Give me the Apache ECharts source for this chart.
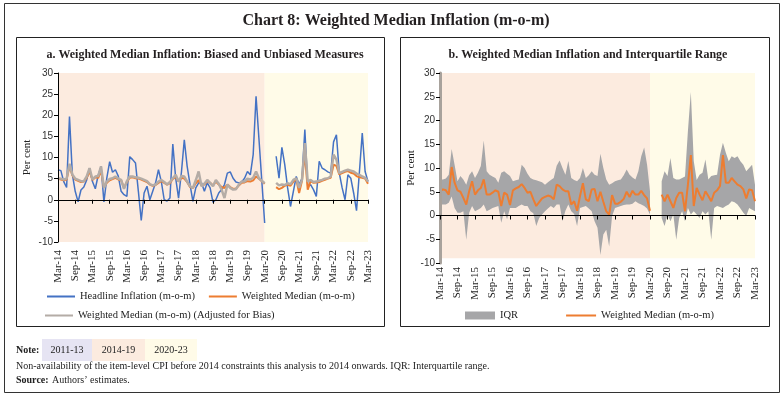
<!DOCTYPE html>
<html>
<head>
<meta charset="utf-8">
<script src="https://cdn.jsdelivr.net/npm/echarts@6.0.0/dist/echarts.min.js"></script>
<style>html,body{margin:0;padding:0;background:#fff}#chart{width:783px;height:396px}</style>
</head>
<body>
<div id="chart"></div>
<script>
// monthly categories Mar-14 .. Mar-23
var monthNames = ['Jan','Feb','Mar','Apr','May','Jun','Jul','Aug','Sep','Oct','Nov','Dec'];
var months = [];
for (var k = 0; k < 109; k++) {
  var m = 2 + k;
  months.push(monthNames[m % 12] + '-' + (14 + Math.floor(m / 12)));
}

// panel a
var headline = [7.1,6.9,4.3,2.9,19.7,6.0,2.0,-0.5,2.3,3.0,
  4.7,7.5,4.3,2.6,5.8,7.9,-0.5,5.1,9.0,6.5,
  7.1,5.6,2.0,1.2,0.8,10.2,9.5,8.7,2.0,-4.9,
  1.6,3.2,0.0,2.0,4.0,7.1,4.3,0.0,-0.3,0.4,
  13.2,5.1,0.4,6.5,14.2,7.9,3.6,-0.4,2.8,4.0,
  4.0,2.0,4.0,2.8,-0.6,0.0,1.6,2.4,3.6,6.3,
  6.6,5.1,4.2,4.0,4.2,5.1,6.7,5.9,10.7,24.5,
  14.5,4.5,-5.5,null,null,null,10.3,5.1,12.4,8.3,
  2.8,-1.6,2.0,5.5,3.6,5.1,16.6,3.2,3.6,2.4,
  0.8,9.1,7.5,7.1,6.6,6.3,13.7,15.4,6.3,2.8,
  0.0,5.9,5.1,1.6,-2.6,6.5,15.8,6.7,4.3];
var wmA = [5.0,4.8,4.6,4.8,7.9,5.8,4.8,4.5,4.2,4.3,
  5.2,6.7,4.7,5.3,5.2,6.8,3.0,4.0,4.6,4.9,
  5.2,4.8,4.6,2.8,4.2,5.2,5.3,5.1,5.0,4.8,
  4.5,4.2,3.6,3.3,3.5,4.0,4.4,4.0,3.6,3.9,
  4.9,5.4,4.3,5.2,5.0,4.2,3.0,2.8,3.9,4.6,
  3.4,3.6,4.4,4.0,3.4,4.3,3.6,3.0,2.8,3.6,
  3.0,2.6,2.6,3.4,4.0,4.1,4.4,4.3,4.6,5.5,
  5.0,4.4,3.8,null,null,null,3.0,2.5,2.8,3.3,
  3.6,3.3,4.3,4.9,1.6,4.5,11.0,2.4,4.4,4.0,
  4.1,4.2,4.5,4.7,5.0,5.2,8.3,8.0,6.0,6.3,
  6.6,6.8,6.4,6.2,5.6,5.3,5.2,5.0,3.8];
var adjA = [5.1,5.0,4.8,5.0,8.5,6.0,5.0,4.7,4.4,4.4,
  5.5,7.5,4.8,5.5,5.6,7.9,2.8,4.3,4.9,5.1,
  5.5,5.0,4.7,2.6,4.4,5.5,5.5,5.3,5.2,5.0,
  4.7,4.4,3.7,3.4,3.6,4.3,4.7,4.2,3.6,4.2,
  5.1,5.9,4.3,5.6,5.5,4.3,3.2,2.8,4.6,6.7,
  3.2,3.8,4.7,4.0,3.2,4.7,3.8,2.4,0.4,3.6,
  2.8,2.4,2.5,3.6,4.3,4.3,5.0,4.8,5.2,6.7,
  5.1,4.5,3.9,null,null,null,4.0,3.4,3.6,3.5,
  3.9,3.7,4.7,5.1,2.8,4.7,13.4,4.3,4.7,4.2,
  4.3,4.5,4.7,5.0,5.1,5.5,10.7,9.5,6.3,6.6,
  6.9,7.1,6.9,6.7,6.2,5.9,5.5,5.2,4.3];

// panel b
var wmB = [5.1,5.5,5.3,4.4,10.2,6.9,5.3,5.0,3.7,2.3,
  5.1,7.2,4.4,5.3,5.8,7.6,4.4,4.4,4.8,5.3,
  5.0,2.0,4.8,4.4,2.2,5.3,5.7,6.0,6.6,5.8,
  4.8,5.0,3.4,2.0,2.8,3.6,3.9,4.2,4.0,3.4,
  6.5,6.2,5.5,5.1,5.1,2.3,3.0,1.0,4.1,6.8,
  3.4,3.0,5.5,5.6,3.0,5.0,2.9,0.9,0.2,4.3,
  2.5,2.5,2.9,3.5,5.0,3.9,5.2,4.4,4.4,5.2,
  4.3,3.6,1.0,null,null,null,4.4,3.0,4.4,3.0,
  1.6,3.7,4.8,4.8,0.9,6.5,12.7,2.0,5.8,4.4,
  3.2,5.1,4.1,3.0,4.8,5.3,6.2,12.7,6.9,6.9,
  7.9,7.2,6.5,6.2,5.5,3.6,5.5,5.3,3.0];
var upB = [7.6,7.6,7.8,8.6,14.0,10.7,7.2,8.3,7.6,6.5,
  8.5,9.3,7.9,9.0,10.4,15.8,9.3,8.6,8.2,7.9,
  6.9,9.0,9.3,8.8,8.3,7.2,7.4,7.6,10.7,10.0,
  8.8,7.9,7.6,7.4,7.2,7.0,6.5,7.0,7.5,7.9,
  10.5,11.6,10.0,8.6,11.5,7.9,7.5,7.2,7.9,10.0,
  7.9,8.5,9.3,8.6,8.3,13.0,10.0,7.6,6.5,6.8,
  7.2,7.4,7.6,8.5,9.7,8.6,8.0,7.6,9.3,12.5,
  14.3,10.7,5.1,null,null,null,7.2,9.3,8.3,12.1,
  7.9,7.6,7.6,7.9,8.2,17.8,26.0,11.5,7.5,8.6,
  9.0,11.8,7.6,8.3,8.5,8.6,12.8,15.3,13.2,11.4,
  12.5,12.1,12.5,11.4,10.7,9.3,10.0,10.7,6.5];
var lowB = [2.3,2.3,2.3,2.7,4.0,1.6,0.6,0.6,0.9,-5.1,
  0.6,2.0,0.9,1.2,1.6,2.3,0.9,1.2,1.6,1.8,
  2.0,-1.5,0.9,-0.8,1.6,1.6,1.6,2.0,2.3,2.0,
  2.0,0.9,0.5,-2.2,-0.5,0.2,0.9,1.5,2.0,1.6,
  2.3,2.3,-1.2,1.0,2.3,0.9,0.3,-2.2,1.6,1.8,
  2.0,1.5,0.9,-1.2,-2.6,-8.3,-4.0,-3.0,-6.5,-0.1,
  1.6,1.8,2.0,2.2,2.3,2.3,2.5,3.0,2.6,2.3,
  2.0,1.5,0.2,null,null,null,-0.5,-2.2,0.2,-1.2,
  0.2,-5.1,-0.5,0.9,-1.2,1.6,0.2,0.9,0.2,-0.5,
  0.9,0.2,0.9,-5.1,1.6,2.0,1.8,1.6,2.0,2.3,
  3.0,2.8,2.3,1.5,0.6,-0.1,1.6,1.2,0.9];

var iqrWidth = upB.map(function (v, i) {
  return (v == null || lowB[i] == null) ? null : +(v - lowB[i]).toFixed(2);
});

var serif = 'Liberation Serif';
var sans = 'Liberation Sans';
var pink = '#fcebdf';
var yellow = '#fffbe8';
// legend icons: full box, and a thin line across the middle of the box
var boxIcon = 'path://M0,0H30V8H0Z';
var lineIcon = 'path://M0,0H30V0.01H0Z M0,3H30V5H0Z M0,7.99H30V8H0Z';

function labelAxis(gridIndex, margin) {
  return {
    type: 'category', gridIndex: gridIndex, data: months, boundaryGap: false, position: 'bottom',
    axisLine: { show: false, onZero: false }, axisTick: { show: false },
    axisLabel: { interval: 5, rotate: 90, margin: margin, fontFamily: serif, fontSize: 11, color: '#222' }
  };
}
function zeroAxis(gridIndex) {
  return {
    type: 'category', gridIndex: gridIndex, data: months, boundaryGap: false, position: 'bottom', z: 5,
    axisLine: { onZero: true, lineStyle: { color: '#000', width: 1 } },
    axisTick: { interval: 5, length: 4, lineStyle: { color: '#000' } },
    axisLabel: { show: false }
  };
}
function valueAxis(gridIndex, lineColor, lineWidth, gap) {
  return {
    type: 'value', gridIndex: gridIndex, min: -10, max: 30, interval: 5, z: 5,
    name: 'Per cent', nameLocation: 'middle', nameGap: gap, nameRotate: 90,
    nameTextStyle: { fontFamily: serif, fontSize: 11, color: '#222' },
    axisLine: { show: true, lineStyle: { color: lineColor, width: lineWidth } },
    axisTick: { show: true, length: 4, lineStyle: { color: '#000' } },
    axisLabel: { fontFamily: sans, fontSize: 10, color: '#333', margin: 5 },
    splitLine: { show: false }
  };
}

var chart = echarts.init(document.getElementById('chart'));
var option = {
  animation: false,
  backgroundColor: '#fff',
  title: [
    { text: 'Chart 8: Weighted Median Inflation (m-o-m)', left: 391, top: 8, textAlign: 'center',
      textStyle: { fontFamily: serif, fontSize: 16, fontWeight: 'bold', color: '#231f20' } },
    { text: 'a. Weighted Median Inflation: Biased and Unbiased Measures', left: 200, top: 44, textAlign: 'center',
      textStyle: { fontFamily: serif, fontSize: 12, fontWeight: 'bold', color: '#231f20' } },
    { text: 'b. Weighted Median Inflation and Interquartile Range', left: 583, top: 44, textAlign: 'center',
      textStyle: { fontFamily: serif, fontSize: 12, fontWeight: 'bold', color: '#231f20' } }
  ],
  grid: [
    { left: 58, top: 73, width: 310, height: 169 },
    { left: 440, top: 73, width: 315, height: 190 }
  ],
  xAxis: [labelAxis(0, 8), zeroAxis(0), labelAxis(1, 4), zeroAxis(1)],
  yAxis: [valueAxis(0, '#000', 1, 25), valueAxis(1, '#a8a29c', 3, 23)],
  legend: [
    { left: 42, top: 286, itemWidth: 28, itemHeight: 8, itemGap: 14,
      textStyle: { fontFamily: serif, fontSize: 10.5, color: '#222' },
      data: [{ name: 'Headline Inflation (m-o-m)', icon: lineIcon },
             { name: 'Weighted Median (m-o-m)', icon: lineIcon }] },
    { left: 40, top: 305, itemWidth: 28, itemHeight: 8,
      textStyle: { fontFamily: serif, fontSize: 10.5, color: '#222' },
      data: [{ name: 'Weighted Median (m-o-m) (Adjusted for Bias)', icon: lineIcon }] },
    { left: 460, top: 305, itemWidth: 30, itemHeight: 8, itemGap: 48,
      textStyle: { fontFamily: serif, fontSize: 10.5, color: '#222' },
      data: [{ name: 'IQR', icon: boxIcon, itemStyle: { color: '#a6a6a8' } },
             { name: 'Weighted Median (m-o-m)', icon: lineIcon }] }
  ],
  graphic: [
    { type: 'rect', shape: { x: 4.5, y: 3.5, width: 775, height: 389 }, style: { fill: 'none', stroke: '#333', lineWidth: 1 }, z: -1 },
    { type: 'rect', shape: { x: 16.5, y: 37.5, width: 368, height: 289 }, style: { fill: 'none', stroke: '#222', lineWidth: 1 } },
    { type: 'rect', shape: { x: 400.5, y: 37.5, width: 369, height: 289 }, style: { fill: 'none', stroke: '#222', lineWidth: 1 } },
    { type: 'rect', shape: { x: 42, y: 339, width: 50, height: 22 }, style: { fill: '#e6e4f3' } },
    { type: 'rect', shape: { x: 92, y: 339, width: 53, height: 22 }, style: { fill: pink } },
    { type: 'rect', shape: { x: 145, y: 339, width: 52, height: 22 }, style: { fill: yellow } },
    { type: 'text', style: { text: 'Note:', x: 16, y: 350, fontFamily: serif, fontSize: 10, fontWeight: 'bold', fill: '#222', verticalAlign: 'middle' } },
    { type: 'text', style: { text: '2011-13', x: 67, y: 350, fontFamily: serif, fontSize: 10, fill: '#222', align: 'center', verticalAlign: 'middle' } },
    { type: 'text', style: { text: '2014-19', x: 118.5, y: 350, fontFamily: serif, fontSize: 10, fill: '#222', align: 'center', verticalAlign: 'middle' } },
    { type: 'text', style: { text: '2020-23', x: 171, y: 350, fontFamily: serif, fontSize: 10, fill: '#222', align: 'center', verticalAlign: 'middle' } },
    { type: 'text', style: { text: 'Non-availability of the item-level CPI before 2014 constraints this analysis to 2014 onwards. IQR: Interquartile range.', x: 16, y: 366, fontFamily: serif, fontSize: 10, fill: '#222', verticalAlign: 'middle' } },
    { type: 'text', style: { text: 'Source:', x: 16, y: 380, fontFamily: serif, fontSize: 10, fontWeight: 'bold', fill: '#222', verticalAlign: 'middle' } },
    { type: 'text', style: { text: 'Authors\u2019 estimates.', x: 52, y: 380, fontFamily: serif, fontSize: 10, fill: '#222', verticalAlign: 'middle' } }
  ],
  series: [
    {
      name: 'Headline Inflation (m-o-m)', type: 'line', xAxisIndex: 0, yAxisIndex: 0, data: headline,
      symbol: 'none', lineStyle: { color: '#4472c4', width: 1.5 }, itemStyle: { color: '#4472c4' },
      markArea: {
        silent: true,
        data: [
          [{ xAxis: months[0], yAxis: -10, itemStyle: { color: pink } }, { xAxis: months[72], yAxis: 30 }],
          [{ xAxis: months[72], yAxis: -10, itemStyle: { color: yellow } }, { xAxis: months[108], yAxis: 30 }]
        ]
      }
    },
    {
      name: 'Weighted Median (m-o-m)', type: 'line', xAxisIndex: 0, yAxisIndex: 0, data: wmA,
      symbol: 'none', lineStyle: { color: '#ed7d31', width: 2 }, itemStyle: { color: '#ed7d31' }
    },
    {
      name: 'Weighted Median (m-o-m) (Adjusted for Bias)', type: 'line', xAxisIndex: 0, yAxisIndex: 0, data: adjA,
      symbol: 'none', lineStyle: { color: '#b4aca6', width: 2.5 }, itemStyle: { color: '#b4aca6' }
    },
    {
      name: 'IQR low', type: 'line', xAxisIndex: 2, yAxisIndex: 1, data: lowB, stack: 'iqr', stackStrategy: 'all',
      symbol: 'none', lineStyle: { opacity: 0 },
      markArea: {
        silent: true,
        data: [
          [{ xAxis: months[0], yAxis: -9, itemStyle: { color: pink } }, { xAxis: months[72], yAxis: 30 }],
          [{ xAxis: months[72], yAxis: -9, itemStyle: { color: yellow } }, { xAxis: months[108], yAxis: 30 }]
        ]
      }
    },
    {
      name: 'IQR', type: 'line', xAxisIndex: 2, yAxisIndex: 1, data: iqrWidth, stack: 'iqr', stackStrategy: 'all',
      symbol: 'none', lineStyle: { opacity: 0 }, itemStyle: { color: '#a6a6a8' },
      areaStyle: { color: '#a6a6a8', opacity: 1 }
    },
    {
      name: 'Weighted Median (m-o-m)', type: 'line', xAxisIndex: 2, yAxisIndex: 1, data: wmB,
      symbol: 'none', lineStyle: { color: '#ed7d31', width: 2 }, itemStyle: { color: '#ed7d31' }
    }
  ]
};
chart.setOption(option);
</script>
</body>
</html>
